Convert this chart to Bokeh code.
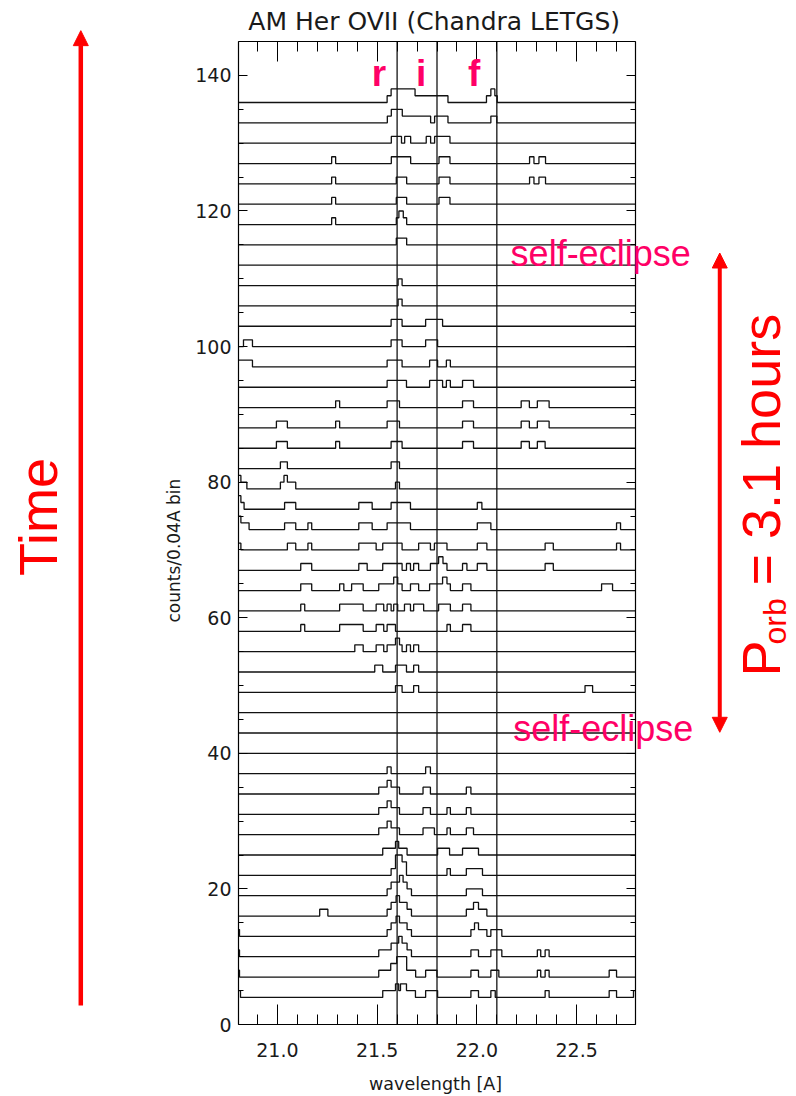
from bokeh.plotting import figure
from bokeh.models import (Range1d, LinearAxis, SingleIntervalTicker, PrintfTickFormatter,
                          Label, Arrow, NormalHead)
from bokeh.embed import file_html
from bokeh.resources import INLINE

# ---------------- data ----------------
title_text = "AM Her OVII (Chandra LETGS)"
x_title = "wavelength [A]"
y_title = "counts/0.04A bin"
wl_min, wl_max = 20.805, 22.795
y_min, y_max = 0, 145

n_spectra = 45
first_offset = 4       # counts offset of the bottom spectrum
offset_step = 3        # counts between stacked spectra

line_names = ["r", "i", "f"]
line_wl = [21.6, 21.8, 22.1]
name_wl = [21.509, 21.720, 21.986]

# (spectrum number from bottom, bin start [A], bin end [A], counts)
bins = [
    (45, 21.550, 21.570, 1), (45, 21.570, 21.690, 2), (45, 21.690, 21.855, 1),
    (45, 22.048, 22.070, 1), (45, 22.070, 22.090, 2), (45, 22.090, 22.102, 1),
    (44, 21.551, 21.571, 1), (44, 21.571, 21.626, 2), (44, 21.626, 21.768, 1),
    (44, 21.788, 21.855, 1), (44, 22.070, 22.100, 1),
    (43, 21.571, 21.622, 1), (43, 21.638, 21.668, 1), (43, 21.746, 21.768, 1),
    (43, 21.788, 21.865, 1),
    (42, 21.272, 21.292, 1), (42, 21.571, 21.668, 1), (42, 21.810, 21.865, 1),
    (42, 22.264, 22.286, 1), (42, 22.311, 22.344, 1),
    (41, 21.272, 21.292, 1), (41, 21.596, 21.648, 1), (41, 21.810, 21.865, 1),
    (41, 22.264, 22.286, 1), (41, 22.311, 22.344, 1),
    (40, 21.272, 21.292, 1), (40, 21.596, 21.648, 1), (40, 21.810, 21.865, 1),
    (39, 21.272, 21.292, 1), (39, 21.596, 21.609, 1), (39, 21.609, 21.631, 2),
    (39, 21.631, 21.648, 1),
    (38, 21.596, 21.648, 1),
    (36, 21.605, 21.625, 1),
    (35, 21.605, 21.625, 1),
    (34, 21.570, 21.625, 1), (34, 21.743, 21.828, 1),
    (33, 20.830, 20.875, 1), (33, 21.570, 21.625, 1), (33, 21.743, 21.803, 1),
    (32, 20.805, 20.875, 1), (32, 21.550, 21.625, 1), (32, 21.763, 21.803, 1),
    (32, 21.847, 21.867, 1),
    (31, 21.550, 21.647, 1), (31, 21.763, 21.828, 1), (31, 21.847, 21.867, 1),
    (31, 21.928, 21.983, 1),
    (30, 21.292, 21.312, 1), (30, 21.550, 21.612, 1), (30, 21.928, 21.983, 1),
    (30, 22.222, 22.263, 1), (30, 22.303, 22.362, 1),
    (29, 20.995, 21.050, 1), (29, 21.292, 21.312, 1), (29, 21.550, 21.612, 1),
    (29, 21.928, 21.983, 1), (29, 22.222, 22.263, 1), (29, 22.303, 22.362, 1),
    (28, 20.995, 21.050, 1), (28, 21.292, 21.312, 1), (28, 21.570, 21.625, 1),
    (28, 21.928, 21.983, 1), (28, 22.222, 22.263, 1), (28, 22.303, 22.342, 1),
    (27, 21.015, 21.050, 1), (27, 21.570, 21.612, 1),
    (26, 20.805, 20.817, 2), (26, 20.817, 20.847, 1), (26, 21.015, 21.033, 1),
    (26, 21.033, 21.050, 2), (26, 21.050, 21.092, 1), (26, 21.592, 21.612, 1),
    (25, 20.805, 20.817, 2), (25, 20.817, 20.833, 1), (25, 21.036, 21.092, 1),
    (25, 21.408, 21.475, 1), (25, 21.570, 21.667, 1), (25, 22.002, 22.025, 1),
    (24, 20.805, 20.817, 2), (24, 20.817, 20.858, 1), (24, 21.036, 21.092, 1),
    (24, 21.153, 21.172, 1), (24, 21.408, 21.475, 1), (24, 21.550, 21.667, 1),
    (24, 22.002, 22.070, 1), (24, 22.700, 22.720, 1),
    (23, 20.805, 20.817, 1), (23, 21.050, 21.092, 1), (23, 21.153, 21.172, 1),
    (23, 21.408, 21.495, 1), (23, 21.528, 21.625, 1), (23, 21.708, 21.767, 1),
    (23, 21.787, 21.850, 1), (23, 22.002, 22.050, 1), (23, 22.342, 22.383, 1),
    (23, 22.700, 22.720, 1),
    (22, 21.117, 21.172, 1), (22, 21.408, 21.450, 1), (22, 21.528, 21.625, 1),
    (22, 21.647, 21.667, 1), (22, 21.683, 21.708, 1), (22, 21.767, 21.808, 1),
    (22, 21.808, 21.830, 2), (22, 21.830, 21.850, 1), (22, 21.928, 21.950, 1),
    (22, 22.002, 22.050, 1), (22, 22.342, 22.383, 1),
    (21, 21.117, 21.172, 1), (21, 21.312, 21.333, 1), (21, 21.372, 21.430, 1),
    (21, 21.508, 21.583, 1), (21, 21.583, 21.603, 2), (21, 21.603, 21.625, 1),
    (21, 21.667, 21.708, 1), (21, 21.763, 21.828, 1), (21, 21.828, 21.850, 2),
    (21, 21.850, 21.867, 1), (21, 21.928, 21.970, 1), (21, 22.625, 22.680, 1),
    (20, 21.117, 21.137, 1), (20, 21.312, 21.430, 1), (20, 21.495, 21.533, 1),
    (20, 21.550, 21.570, 1), (20, 21.583, 21.603, 1), (20, 21.637, 21.667, 1),
    (20, 21.683, 21.733, 1), (20, 21.808, 21.867, 1), (20, 21.928, 21.970, 1),
    (19, 21.117, 21.137, 1), (19, 21.312, 21.430, 1), (19, 21.495, 21.533, 1),
    (19, 21.550, 21.592, 1), (19, 21.850, 21.867, 1), (19, 21.928, 21.970, 1),
    (18, 21.388, 21.430, 1), (18, 21.495, 21.533, 1), (18, 21.550, 21.592, 1),
    (18, 21.592, 21.612, 2), (18, 21.612, 21.625, 1), (18, 21.647, 21.667, 1),
    (18, 21.683, 21.708, 1),
    (17, 21.488, 21.528, 1), (17, 21.592, 21.647, 1), (17, 21.683, 21.708, 1),
    (16, 21.592, 21.625, 1), (16, 21.683, 21.708, 1), (16, 22.542, 22.580, 1),
    (12, 21.550, 21.570, 1), (12, 21.743, 21.767, 1),
    (11, 21.508, 21.550, 1), (11, 21.550, 21.570, 2), (11, 21.570, 21.612, 1),
    (11, 21.730, 21.767, 1), (11, 21.947, 21.970, 1),
    (10, 21.508, 21.550, 1), (10, 21.550, 21.570, 2), (10, 21.570, 21.612, 1),
    (10, 21.730, 21.767, 1), (10, 21.850, 21.867, 1), (10, 21.947, 21.970, 1),
    (9, 21.508, 21.550, 1), (9, 21.550, 21.570, 2), (9, 21.570, 21.612, 1),
    (9, 21.730, 21.787, 1), (9, 21.850, 21.867, 1), (9, 21.947, 21.983, 1),
    (8, 21.528, 21.592, 1), (8, 21.592, 21.608, 2), (8, 21.608, 21.650, 1),
    (8, 21.803, 21.863, 1), (8, 21.928, 22.008, 1),
    (7, 21.570, 21.592, 1), (7, 21.592, 21.625, 3), (7, 21.625, 21.647, 2),
    (7, 21.850, 21.867, 1), (7, 21.947, 22.028, 1),
    (6, 21.550, 21.570, 1), (6, 21.570, 21.612, 2), (6, 21.612, 21.630, 3),
    (6, 21.630, 21.650, 2), (6, 21.650, 21.672, 1), (6, 21.947, 22.028, 1),
    (5, 21.212, 21.253, 1), (5, 21.550, 21.570, 1), (5, 21.570, 21.595, 2),
    (5, 21.595, 21.612, 3), (5, 21.612, 21.650, 2), (5, 21.650, 21.672, 1),
    (5, 21.947, 21.983, 1), (5, 21.983, 22.008, 2), (5, 22.008, 22.050, 1),
    (4, 20.805, 20.810, 1), (4, 21.550, 21.570, 1), (4, 21.570, 21.595, 2),
    (4, 21.595, 21.612, 3), (4, 21.612, 21.650, 2), (4, 21.650, 21.672, 1),
    (4, 21.970, 21.988, 1), (4, 21.988, 22.008, 2), (4, 22.008, 22.050, 1),
    (4, 22.070, 22.125, 1),
    (3, 20.805, 20.810, 1), (3, 21.508, 21.570, 1), (3, 21.570, 21.608, 2),
    (3, 21.608, 21.625, 3), (3, 21.625, 21.650, 2), (3, 21.650, 21.672, 1),
    (3, 21.970, 22.008, 1), (3, 22.070, 22.125, 1), (3, 22.303, 22.320, 1),
    (3, 22.342, 22.362, 1),
    (2, 20.805, 20.810, 1), (2, 21.508, 21.568, 1), (2, 21.568, 21.598, 2),
    (2, 21.598, 21.648, 3), (2, 21.648, 21.693, 1), (2, 21.743, 21.800, 1),
    (2, 21.970, 22.008, 1), (2, 22.070, 22.110, 1), (2, 22.303, 22.320, 1),
    (2, 22.342, 22.362, 1), (2, 22.663, 22.700, 1),
    (1, 20.805, 20.815, 1), (1, 21.528, 21.592, 1), (1, 21.592, 21.608, 2),
    (1, 21.608, 21.617, 1), (1, 21.617, 21.647, 2), (1, 21.647, 21.692, 1),
    (1, 21.743, 21.803, 1), (1, 21.970, 22.008, 1), (1, 22.070, 22.092, 1),
    (1, 22.342, 22.362, 1), (1, 22.663, 22.700, 1), (1, 22.785, 22.795, 1),
]
bin_spec = [b[0] for b in bins]
bin_lo = [b[1] for b in bins]
bin_hi = [b[2] for b in bins]
bin_counts = [b[3] for b in bins]

# ---------------- build stepped spectra ----------------
xs_all, ys_all = [], []
for k in range(1, n_spectra + 1):
    base = first_offset + offset_step * (k - 1)
    segs = [(lo, hi, n) for s, lo, hi, n in zip(bin_spec, bin_lo, bin_hi, bin_counts) if s == k]
    pts = sorted(set([wl_min, wl_max] + [s[0] for s in segs] + [s[1] for s in segs]))
    xs, ys = [], []
    for a, b in zip(pts[:-1], pts[1:]):
        m = 0.5 * (a + b)
        lev = sum(n for lo, hi, n in segs if lo <= m < hi)
        xs += [a, b]
        ys += [base + lev, base + lev]
    xs_all.append(xs)
    ys_all.append(ys)

# ---------------- figure ----------------
# The frame fills the whole page (so that the annotations outside the axes box
# are not clipped); the axes box itself is drawn with fixed-location axes.
W, H = 796, 1096
box_left, box_right, box_top, box_bottom = 238, 635, 41, 1024   # pixels
sx = (box_right - box_left) / (wl_max - wl_min)
sy = (box_bottom - box_top) / (y_max - y_min)
p = figure(width=W, height=H,
           x_range=Range1d(wl_min - box_left / sx, wl_max + (W - box_right) / sx),
           y_range=Range1d(y_min - (H - box_bottom) / sy, y_max + box_top / sy),
           output_backend="svg", toolbar_location=None, min_border=0)
p.xgrid.visible = False
p.ygrid.visible = False
p.outline_line_color = None
p.background_fill_color = "white"
p.border_fill_color = "white"

FONT = "DejaVu Sans"
TXT = "#1a1a1a"

def style_axis(ax, major_len, minor_len, labels, loc, bounds):
    ax.fixed_location = loc
    ax.bounds = bounds
    ax.major_tick_in = major_len
    ax.major_tick_out = 0
    ax.minor_tick_in = minor_len
    ax.minor_tick_out = 0
    ax.axis_line_color = "black"
    ax.axis_line_width = 1.2
    ax.major_tick_line_color = "black"
    ax.minor_tick_line_color = "black"
    ax.major_label_text_font = FONT
    ax.major_label_text_font_size = "19px"
    ax.major_label_text_color = TXT if labels else None

xb = p.xaxis[0]
xb.ticker = SingleIntervalTicker(interval=0.5, num_minor_ticks=5)
xb.formatter = PrintfTickFormatter(format="%.1f")
style_axis(xb, 20, 10, True, y_min, (wl_min, wl_max))
xb.major_label_standoff = 18

yl = p.yaxis[0]
yl.ticker = SingleIntervalTicker(interval=20, num_minor_ticks=4)
style_axis(yl, 9, 5, True, wl_min, (y_min, y_max))
yl.major_label_standoff = 7

xt = LinearAxis(ticker=SingleIntervalTicker(interval=0.5, num_minor_ticks=5))
style_axis(xt, 20, 10, False, y_max, (wl_min, wl_max))
p.add_layout(xt, "above")
yr = LinearAxis(ticker=SingleIntervalTicker(interval=20, num_minor_ticks=4))
style_axis(yr, 9, 5, False, wl_max, (y_min, y_max))
p.add_layout(yr, "right")

# line markers
p.segment(x0=line_wl, y0=[y_min] * len(line_wl), x1=line_wl, y1=[y_max] * len(line_wl),
          line_color="black", line_width=1.2)

# spectra
p.multi_line(xs_all, ys_all, line_color="#111111", line_width=1.3)

# ---------------- texts & annotations ----------------
p.add_layout(Label(x=21.786, y=147.99, text=title_text, text_align="center",
                   text_baseline="alphabetic", text_font=FONT, text_font_size="25px",
                   text_color=TXT))
p.add_layout(Label(x=21.793, y=-8.73, text=x_title, text_align="center",
                   text_baseline="alphabetic", text_font=FONT, text_font_size="17.5px",
                   text_color=TXT))
p.add_layout(Label(x=20.4807, y=69.9, text=y_title, text_align="center", angle=90,
                   angle_units="deg", text_baseline="alphabetic", text_font=FONT,
                   text_font_size="17px", text_color=TXT))

PINK = "#ff0066"
RED = "#ff0000"
for nm, wl in zip(line_names, name_wl):
    p.add_layout(Label(x=wl, y=140.31, text=nm, text_align="center", text_baseline="alphabetic",
                       text_font="Liberation Sans", text_font_style="bold",
                       text_font_size="37px", text_color=PINK))

for xx, yy in [(22.169, 113.8), (22.182, 43.63)]:
    p.add_layout(Label(x=xx, y=yy, text="self-eclipse", text_align="left",
                       text_baseline="alphabetic", text_font="Liberation Sans",
                       text_font_size="36px", text_color=PINK))

# Time arrow
p.add_layout(Arrow(x_start=20.0145, y_start=2.8, x_end=20.0145, y_end=146.6,
                   line_color=RED, line_width=4.5,
                   end=NormalHead(size=15, fill_color=RED, line_color=RED)))
p.add_layout(Label(x=19.8015, y=74.85, text="Time", text_align="center", angle=90,
                   angle_units="deg", text_baseline="alphabetic", text_font="Liberation Sans",
                   text_font_size="54px", text_color=RED))

# P_orb double arrow
p.add_layout(Arrow(x_start=23.2174, y_start=43.1, x_end=23.2174, y_end=113.8,
                   line_color=RED, line_width=4,
                   start=NormalHead(size=15, fill_color=RED, line_color=RED),
                   end=NormalHead(size=15, fill_color=RED, line_color=RED)))
p.add_layout(Label(x=23.4225, y=51.33, text="P", text_align="left", angle=90, angle_units="deg",
                   text_baseline="alphabetic", text_font="Liberation Sans",
                   text_font_size="54px", text_color=RED))
p.add_layout(Label(x=23.4957, y=56.05, text="orb", text_align="left", angle=90, angle_units="deg",
                   text_baseline="alphabetic", text_font="Liberation Sans",
                   text_font_size="32px", text_color=RED))
p.add_layout(Label(x=23.4225, y=64.75, text="= 3.1 hours", text_align="left", angle=90,
                   angle_units="deg", text_baseline="alphabetic", text_font="Liberation Sans",
                   text_font_size="54px", text_color=RED))

open("out.html", "w").write(file_html(p, INLINE))
